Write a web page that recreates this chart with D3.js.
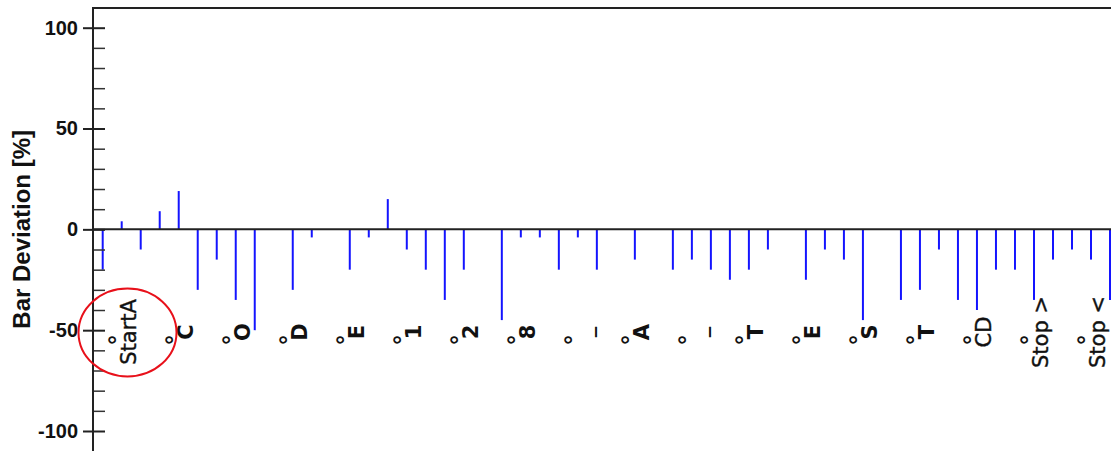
<!DOCTYPE html>
<html>
<head>
<meta charset="utf-8">
<script src="https://cdn.jsdelivr.net/npm/d3@7"></script>
<style>
  body { margin: 0; background: #fff; }
  svg { display: block; }
</style>
</head>
<body>
<svg id="chart" width="1111" height="451"></svg>
<script>
// bar deviation per step, one value per bar (in %)
var barValues = [-20, 4, -10, 9, 19, -30, -15, -35, -50, 0,
                 -30, -4, 0, -20, -4, 15, -10, -20, -35, -20,
                 0, -45, -4, -4, -20, -4, -20, 0, -15, 0,
                 -20, -15, -20, -25, -20, -10, 0, -25, -10, -15,
                 -45, 0, -35, -30, -10, -35, -40, -20, -20, -35,
                 -15, -10, -15, -35];
// every third bar (starting at the 2nd) carries a label
var labelNames = ["StartA", "C", "O", "D", "E", "1", "2", "8", "_", "A",
                  "_", "T", "E", "S", "T", "CD", "Stop >", "Stop <"];
var majorTicks = [-100, -50, 0, 50, 100];
var minorTicks = [-90, -80, -70, -60, -40, -30, -20, -10, 10, 20, 30, 40, 60, 70, 80, 90];
var yTitle = "Bar Deviation [%]";

var svg = d3.select("#chart"),
    width = +svg.attr("width"),
    height = +svg.attr("height"),
    axisX = 93;

var x = d3.scaleLinear()
    .domain([0, barValues.length - 1])
    .range([102.7, 1110]);

var y = d3.scaleLinear()
    .domain([-100, 100])
    .range([431, 27.7]);

// frame top line
svg.append("line")
    .attr("x1", axisX).attr("x2", width)
    .attr("y1", 8).attr("y2", 8)
    .attr("stroke", "#222").attr("stroke-width", 2);

// bars as thin vertical lines from zero
svg.append("g")
  .selectAll("line")
  .data(barValues)
  .enter().append("line")
    .attr("x1", function(d, i) { return x(i); })
    .attr("x2", function(d, i) { return x(i); })
    .attr("y1", y(0))
    .attr("y2", function(d) { return y(d); })
    .attr("stroke", "#1414ff")
    .attr("stroke-width", 2);

// zero line
svg.append("line")
    .attr("x1", axisX).attr("x2", width)
    .attr("y1", y(0)).attr("y2", y(0))
    .attr("stroke", "#222").attr("stroke-width", 2);

// y axis, major ticks cross the axis
var yAxis = svg.append("g")
    .attr("transform", "translate(" + axisX + ",0)")
    .call(d3.axisLeft(y).tickValues(majorTicks).tickSize(10).tickPadding(5)
      .tickFormat(function(d) { return String(d); }));
yAxis.select(".domain").remove();
yAxis.selectAll(".tick line")
    .attr("x1", -10).attr("x2", 12)
    .attr("stroke", "#222").attr("stroke-width", 2);
yAxis.selectAll(".tick text")
    .attr("font-family", "'Liberation Sans', Arial, sans-serif")
    .attr("font-size", 20)
    .attr("font-weight", "bold")
    .attr("fill", "#111");

var yMinor = svg.append("g")
    .attr("transform", "translate(" + axisX + ",0)")
    .call(d3.axisRight(y).tickValues(minorTicks).tickSize(12).tickFormat(""));
yMinor.select(".domain").remove();
yMinor.selectAll(".tick line").attr("stroke", "#333").attr("stroke-width", 1.5);

svg.append("line")
    .attr("x1", axisX).attr("x2", axisX)
    .attr("y1", 7).attr("y2", height)
    .attr("stroke", "#222").attr("stroke-width", 2);

// y title
svg.append("text")
    .attr("transform", "translate(30," + y(0) + ") rotate(-90)")
    .attr("text-anchor", "middle")
    .attr("font-family", "'Liberation Sans', Arial, sans-serif")
    .attr("font-size", 24)
    .attr("font-weight", "bold")
    .attr("fill", "#111")
    .text(yTitle);

// category labels, rotated, each with a small degree mark
var labels = svg.append("g")
  .selectAll("g")
  .data(labelNames)
  .enter().append("g")
    .attr("transform", function(d, i) { return "translate(" + x(3 * i + 1) + ",0)"; });

labels.append("text")
    .attr("transform", "translate(3,340) rotate(-90)")
    .attr("text-anchor", "middle")
    .attr("font-family", "'Liberation Sans', Arial, sans-serif")
    .attr("font-size", 24)
    .attr("font-weight", "bold")
    .attr("fill", "#111")
    .text("°");

labels.append("text")
    .attr("transform", "translate(14,332) rotate(-90)")
    .attr("text-anchor", "middle")
    .attr("font-family", "'DejaVu Sans', Verdana, sans-serif")
    .attr("font-size", function(d) { return d.length == 1 ? 21 : 21; })
    .attr("font-weight", function(d) { return d.length == 1 ? "bold" : "normal"; })
    .attr("stroke", function(d) { return d.length == 1 ? "none" : "#111"; })
    .attr("stroke-width", 0.4)
    .attr("fill", "#111")
    .text(function(d) { return d; });

// red marker ellipse around the first label
svg.append("ellipse")
    .attr("cx", 127.5).attr("cy", 332.5)
    .attr("rx", 49).attr("ry", 44)
    .attr("fill", "none")
    .attr("stroke", "#e8101a")
    .attr("stroke-width", 2);
</script>
</body>
</html>
